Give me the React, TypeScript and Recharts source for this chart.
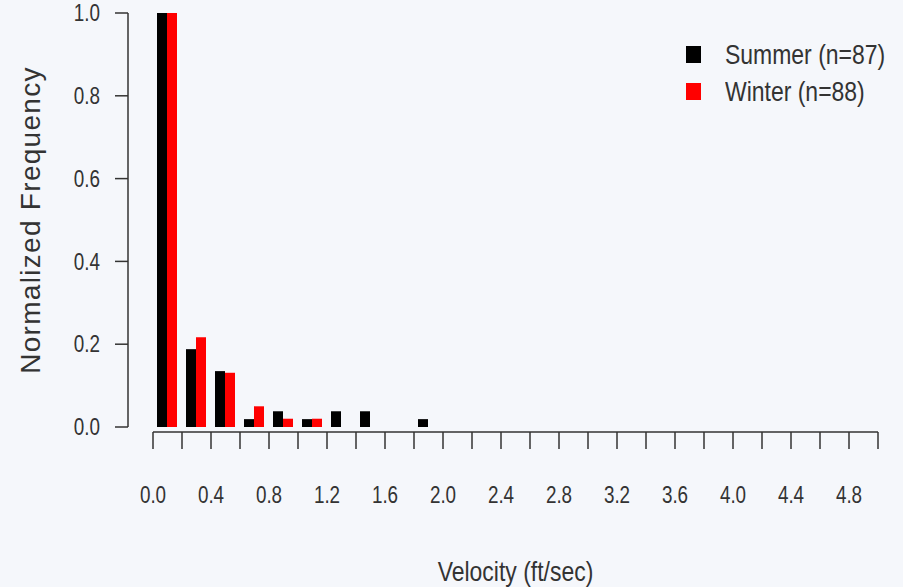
import React from "react";
import { BarChart, Bar, XAxis, YAxis, Legend, Label } from "recharts";

const binCenters = [
  0.1, 0.3, 0.5, 0.7, 0.9, 1.1, 1.3, 1.5, 1.7, 1.9, 2.1, 2.3, 2.5, 2.7, 2.9, 3.1, 3.3, 3.5, 3.7, 3.9, 4.1,
  4.3, 4.5, 4.7, 4.9,
];
const summerFreq = [
  1.0, 0.188, 0.135, 0.019, 0.038, 0.019, 0.038, 0.038, 0, 0.019, 0, 0, 0, 0, 0, 0, 0, 0, 0, 0, 0, 0, 0, 0, 0,
];
const winterFreq = [
  1.0, 0.217, 0.131, 0.05, 0.02, 0.02, 0, 0, 0, 0, 0, 0, 0, 0, 0, 0, 0, 0, 0, 0, 0, 0, 0, 0, 0,
];
const xTicks = [
  0, 0.2, 0.4, 0.6, 0.8, 1.0, 1.2, 1.4, 1.6, 1.8, 2.0, 2.2, 2.4, 2.6, 2.8, 3.0, 3.2, 3.4, 3.6, 3.8, 4.0, 4.2,
  4.4, 4.6, 4.8, 5.0,
];
const yTicks = [0, 0.2, 0.4, 0.6, 0.8, 1.0];
const seriesNames = ["Summer (n=87)", "Winter (n=88)"];
const seriesColors = ["#000000", "#ff0000"];

const data = binCenters.map((v, i) => ({ v, summer: summerFreq[i], winter: winterFreq[i] }));

const FONT = "'Liberation Sans', Arial, sans-serif";
const TEXT = "#333333";
const AXIS = "#333333";
const SQUEEZE = 0.82;

const XTick = (props: any) => {
  const { x, y, index, payload } = props;
  if (index % 2 !== 0 || payload.value > 4.9) return null;
  return (
    <g transform={`translate(${x},${y})`}>
      <text
        transform={`scale(${SQUEEZE},1)`}
        textAnchor="middle"
        dominantBaseline="central"
        dy={46}
        fontFamily={FONT}
        fontSize={23}
        fill={TEXT}
      >
        {payload.value.toFixed(1)}
      </text>
    </g>
  );
};

const YTick = (props: any) => {
  const { x, y, payload } = props;
  return (
    <g transform={`translate(${x},${y})`}>
      <text
        transform={`scale(${SQUEEZE},1)`}
        textAnchor="end"
        dominantBaseline="central"
        fontFamily={FONT}
        fontSize={23}
        fill={TEXT}
      >
        {payload.value.toFixed(1)}
      </text>
    </g>
  );
};

const XTitle = (props: any) => {
  const { viewBox } = props;
  const cx = viewBox.x + viewBox.width / 2;
  return (
    <g transform={`translate(${cx},${viewBox.y + 139})`}>
      <text
        transform={`scale(${SQUEEZE},1)`}
        textAnchor="middle"
        dominantBaseline="central"
        fontFamily={FONT}
        fontSize={28}
        fill={TEXT}
      >
        Velocity (ft/sec)
      </text>
    </g>
  );
};

const YTitle = (props: any) => {
  const { viewBox } = props;
  const cx = viewBox.x + 30;
  const cy = viewBox.y + viewBox.height / 2;
  return (
    <text
      x={cx}
      y={cy}
      transform={`rotate(-90,${cx},${cy})`}
      textAnchor="middle"
      dominantBaseline="central"
      fontFamily={FONT}
      fontSize={28}
      letterSpacing={1.3}
      fill={TEXT}
    >
      Normalized Frequency
    </text>
  );
};

const LegendBox = () => (
  <div style={{ fontFamily: FONT }}>
    {seriesNames.map((name, i) => (
      <div key={name} style={{ display: "flex", alignItems: "center", height: 37 }}>
        <div
          style={{ width: 15, height: 17, flexShrink: 0, background: seriesColors[i], marginRight: 24 }}
        />
        <span
          style={{
            fontSize: 28,
            color: TEXT,
            display: "inline-block",
            flexShrink: 0,
            transform: `scaleX(${SQUEEZE})`,
            transformOrigin: "left center",
            whiteSpace: "nowrap",
          }}
        >
          {name}
        </span>
      </div>
    ))}
  </div>
);

export default function App() {
  return (
    <div style={{ position: "absolute", left: 0, top: 0, width: 903, height: 587, background: "#f5f7fb" }}>
      <BarChart
        width={903}
        height={587}
        data={data}
        margin={{ top: 13, right: 25, left: 0, bottom: 0 }}
        barGap={0}
        barSize={10}
      >
        <XAxis xAxisId="a" dataKey="v" type="number" domain={[0, 5]} height={5} tick={false} axisLine={false} tickLine={false} />
        <XAxis
          xAxisId="b"
          dataKey="v"
          type="number"
          domain={[0, 5]}
          ticks={xTicks}
          interval={0}
          height={155}
          tickSize={17}
          tickMargin={0}
          tick={<XTick />}
          axisLine={{ stroke: AXIS, strokeWidth: 1.5 }}
          tickLine={{ stroke: AXIS, strokeWidth: 1.5 }}
          allowDataOverflow
        >
          <Label content={<XTitle />} />
        </XAxis>
        <YAxis yAxisId="a" domain={[0, 1]} width={25} tick={false} axisLine={false} tickLine={false} />
        <YAxis
          yAxisId="b"
          domain={[0, 1]}
          ticks={yTicks}
          interval={0}
          width={128}
          tickSize={13}
          tickMargin={15}
          tick={<YTick />}
          axisLine={{ stroke: AXIS, strokeWidth: 1.5 }}
          tickLine={{ stroke: AXIS, strokeWidth: 1.5 }}
        >
          <Label content={<YTitle />} />
        </YAxis>
        <Legend
          layout="horizontal"
          verticalAlign="middle"
          align="center"
          content={<LegendBox />}
          wrapperStyle={{ top: 36, left: 686, width: 217 }}
        />
        <Bar xAxisId="b" yAxisId="b" dataKey="summer" fill={seriesColors[0]} isAnimationActive={false} />
        <Bar xAxisId="b" yAxisId="b" dataKey="winter" fill={seriesColors[1]} isAnimationActive={false} />
      </BarChart>
    </div>
  );
}
